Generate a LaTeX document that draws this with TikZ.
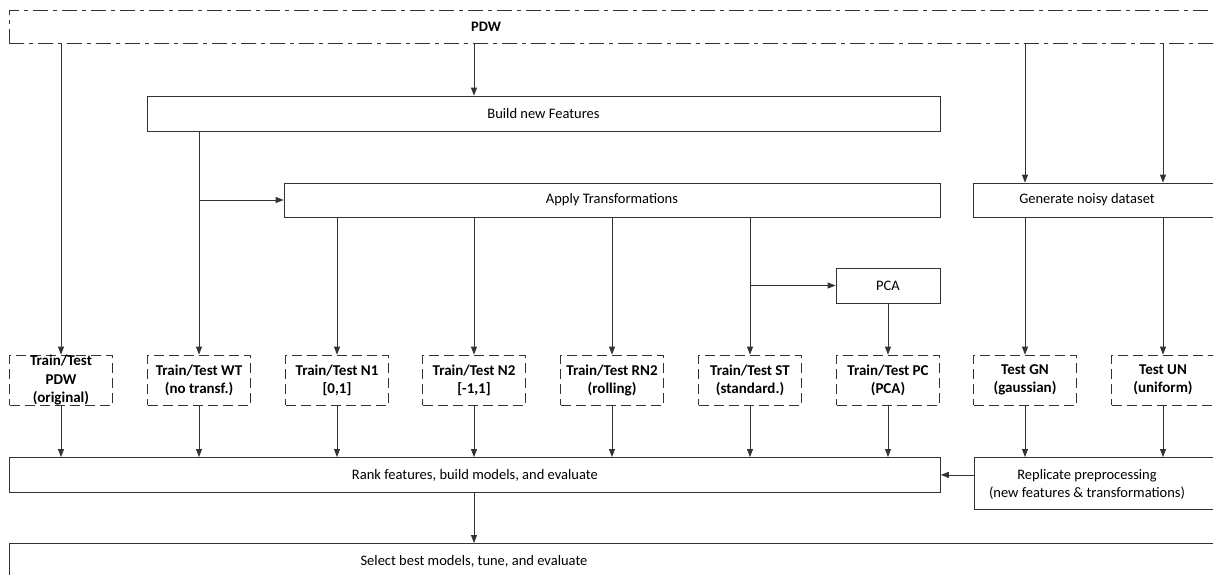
\documentclass[tikz,border=0pt]{standalone}
\usepackage{fontspec}
\setmainfont{Carlito}
\usepackage{tikz}
\usetikzlibrary{arrows.meta}
\usetikzlibrary{positioning}

\begin{document}
\begin{tikzpicture}[x=1pt, y=-1pt,
    font=\fontsize{14.5}{18}\selectfont,
    >={Triangle[length=8pt, width=6pt]},
    line/.style={draw=black!80, line width=0.8pt},
    box/.style={line, rectangle, inner sep=0pt, align=center},
    dbox/.style={box, dashed, dash pattern=on 10pt off 5pt, font=\fontsize{15}{18}\selectfont\bfseries,
                 minimum width=103pt, minimum height=50pt},
    arr/.style={line, ->}]
  \useasboundingbox (0,0) rectangle (1213,574);
  \clip (0,0) rectangle (1213,574);

  % ===== Source data =====
  \node[box, dash pattern=on 15pt off 5pt on 4pt off 5pt,
        minimum width=1221pt, minimum height=33pt, anchor=north west] (pdw) at (9,10) {};
  \node[font=\fontsize{14.5}{18}\selectfont\bfseries] (pdwtxt) at (486,27) {PDW};

  % ===== Preprocessing =====
  \node[box, minimum width=793pt, minimum height=35pt] (build) at (543.5,113.5) {Build new Features};
  \node[box, minimum width=656pt, minimum height=34pt] (apply) at (612,200) {Apply Transformations};
  \node[box, minimum width=257pt, minimum height=34pt, anchor=west] (noisy) at (973,200) {};
  \node (noisytxt) at (1087,200) {Generate noisy dataset};
  \node[box, minimum width=104pt, minimum height=35pt] (pca) at (888,285.5) {PCA};

  % ===== Datasets =====
  \node[dbox] (orig) at (61,380)   {Train/Test\\PDW\\(original)};
  \node[dbox] (wt)   at (199,380)  {Train/Test WT\\(no transf.)};
  \node[dbox] (n1)   at (337,380)  {Train/Test N1\\{[0,1]}};
  \node[dbox] (n2)   at (474,380)  {Train/Test N2\\{[-1,1]}};
  \node[dbox] (rn2)  at (612,380)  {Train/Test RN2\\(rolling)};
  \node[dbox] (st)   at (750,380)  {Train/Test ST\\(standard.)};
  \node[dbox] (pc)   at (888,380)  {Train/Test PC\\(PCA)};
  \node[dbox] (gn)   at (1025,380) {Test GN\\(gaussian)};
  \node[dbox] (un)   at (1163,380) {Test UN\\(uniform)};

  % ===== Modelling =====
  \node[box, minimum width=931pt, minimum height=35pt, anchor=north west] (rank) at (9,457) {Rank features, build models, and evaluate};
  \node[box, minimum width=256pt, minimum height=52pt, anchor=north west] (repl) at (974,457) {};
  \node[align=center] (repltxt) at (1087,484) {Replicate preprocessing\\(new features \& transformations)};
  \node[box, minimum width=1221pt, minimum height=45pt, anchor=north west] (select) at (9,543) {};
  \node (selecttxt) at (474,561) {Select best models, tune, and evaluate};

  % ===== Connectors =====
  \draw[arr] (pdw.south -| orig) -- (orig);
  \draw[arr] (pdw.south -| n2) -- (build.north -| n2);
  \draw[arr] (pdw.south -| gn) -- (noisy.north -| gn);
  \draw[arr] (pdw.south -| un) -- (noisy.north -| un);

  \draw[arr] (build.south -| wt) -- (wt);
  \draw[arr] (wt |- apply.west) -- (apply.west);
  \foreach \d in {n1, n2, rn2, st}
    \draw[arr] (apply.south -| \d) -- (\d);
  \draw[arr] (st |- pca.west) -- (pca.west);
  \draw[arr] (pca) -- (pc);
  \draw[arr] (noisy.south -| gn) -- (gn);
  \draw[arr] (noisy.south -| un) -- (un);

  \foreach \d in {orig, wt, n1, n2, rn2, st, pc}
    \draw[arr] (\d) -- (rank.north -| \d);
  \draw[arr] (gn) -- (repl.north -| gn);
  \draw[arr] (un) -- (repl.north -| un);
  \draw[arr] (repl.west |- rank.east) -- (rank.east);
  \draw[arr] (rank.south -| n2) -- (select.north -| n2);
\end{tikzpicture}
\end{document}
